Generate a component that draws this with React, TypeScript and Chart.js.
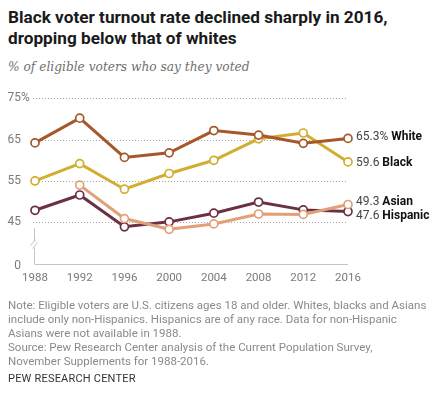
import React, { useEffect, useRef } from "react";
import { Chart, registerables } from "chart.js";

Chart.register(...registerables);

const years = ["1988", "1992", "1996", "2000", "2004", "2008", "2012", "2016"];
const white = [64.2, 70.2, 60.7, 61.8, 67.2, 66.1, 64.1, 65.3];
const black = [55.0, 59.2, 53.0, 56.8, 60.0, 65.2, 66.6, 59.6];
const asian = [null, 54.0, 45.9, 43.3, 44.6, 47.0, 46.9, 49.3];
const hispanic = [47.9, 51.6, 43.9, 45.1, 47.2, 49.9, 48.0, 47.6];
const yTickValues = [35, 45, 55, 65, 75];
const yTickLabels = ["0", "45", "55", "65", "75"];
const seriesNames = ["White", "Black", "Asian", "Hispanic"];
const endValueLabels = ["65.3%", "59.6", "49.3", "47.6"];

const colors = ["#A5582A", "#D2AE30", "#E1A078", "#6A3142"];
const labelDy = [-1, 1, -3, 4];

const FONT = "Roboto, 'Liberation Sans', sans-serif";

export default function App() {
  const ref = useRef<HTMLCanvasElement | null>(null);

  useEffect(() => {
    if (!ref.current) return;
    const series = [white, black, asian, hispanic];
    const decor = {
      id: "decor",
      beforeDatasetsDraw(chart: any) {
        const { ctx, chartArea, scales } = chart;
        const y = scales.y;
        const x = scales.x;
        ctx.save();
        // gridlines
        ctx.strokeStyle = "#a8a8a8";
        ctx.lineWidth = 1;
        ctx.setLineDash([1, 2]);
        yTickValues.forEach((v) => {
          if (v === 35) return;
          const py = Math.round(y.getPixelForValue(v)) + 0.5;
          ctx.beginPath();
          ctx.moveTo(chartArea.left - 2, py);
          ctx.lineTo(chartArea.right, py);
          ctx.stroke();
        });
        ctx.setLineDash([]);
        // baseline
        ctx.strokeStyle = "#c4c4c4";
        const by = Math.round(y.getPixelForValue(35)) + 0.5;
        ctx.beginPath();
        ctx.moveTo(chartArea.left, by);
        ctx.lineTo(chartArea.right, by);
        ctx.stroke();
        // y axis stub with break
        const ax = Math.round(chartArea.left) - 0.5;
        const topY = y.getPixelForValue(45) + 6;
        const breakY = y.getPixelForValue(39.6);
        ctx.beginPath();
        ctx.moveTo(ax, topY);
        ctx.lineTo(ax, breakY - 3);
        ctx.moveTo(ax, breakY + 3);
        ctx.lineTo(ax, by);
        ctx.stroke();
        ctx.beginPath();
        ctx.moveTo(ax - 4, breakY + 1);
        ctx.lineTo(ax + 1, breakY - 5);
        ctx.moveTo(ax - 2, breakY + 4);
        ctx.lineTo(ax + 3, breakY - 2);
        ctx.stroke();
        // y labels
        ctx.fillStyle = "#7a7a7a";
        ctx.font = `12px ${FONT}`;
        ctx.textBaseline = "middle";
        yTickValues.forEach((v, i) => {
          const py = y.getPixelForValue(v) + (v === 35 ? 2 : 0);
          ctx.textAlign = "right";
          ctx.fillText(yTickLabels[i], 21, py);
          if (v === 75) {
            ctx.textAlign = "left";
            ctx.fillText("%", 21, py);
          }
        });
        // x labels
        ctx.textAlign = "center";
        ctx.font = `11.5px ${FONT}`;
        years.forEach((yr, i) => {
          ctx.fillText(yr, x.getPixelForValue(i), by + 14);
        });
        ctx.restore();
      },
      afterDatasetsDraw(chart: any) {
        const { ctx, scales } = chart;
        const y = scales.y;
        const x = scales.x;
        ctx.save();
        ctx.textBaseline = "middle";
        ctx.textAlign = "left";
        const lx = x.getPixelForValue(years.length - 1) + 8;
        series.forEach((s, i) => {
          const v = s[s.length - 1] as number;
          const py = y.getPixelForValue(v) + labelDy[i];
          ctx.font = `12px ${FONT}`;
          ctx.fillStyle = "#444";
          const t = endValueLabels[i] + " ";
          ctx.fillText(t, lx, py);
          const w = ctx.measureText(t).width;
          ctx.font = `bold 12px ${FONT}`;
          ctx.fillStyle = "#111";
          ctx.fillText(seriesNames[i], lx + w, py);
        });
        ctx.restore();
      },
    };

    const chart = new Chart(ref.current, {
      type: "line",
      data: {
        labels: years,
        datasets: series.map((s, i) => ({
          label: seriesNames[i],
          data: s,
          borderColor: colors[i],
          backgroundColor: "#fff",
          borderWidth: 3,
          pointRadius: 4,
          pointBorderWidth: 1.7,
          pointBackgroundColor: "#fff",
          pointBorderColor: colors[i],
          tension: 0,
          spanGaps: false,
          clip: false as any,
        })),
      },
      options: {
        animation: false,
        responsive: false,
        maintainAspectRatio: false,
        layout: { padding: { left: 35, right: 90, top: 13.3, bottom: 36.4 } },
        plugins: { legend: { display: false }, tooltip: { enabled: false } },
        scales: {
          x: { type: "category", display: false, offset: false },
          y: { type: "linear", display: false, min: 35, max: 75 },
        },
      },
      plugins: [decor],
    });
    return () => chart.destroy();
  }, []);

  const noteStyle: React.CSSProperties = {
    position: "absolute",
    left: 8,
    top: 298,
    width: 430,
    font: `11.5px ${FONT}`,
    lineHeight: "14px",
    color: "#8a8a8a",
    whiteSpace: "nowrap",
  };

  return (
    <div
      style={{
        position: "fixed",
        left: 0,
        top: 0,
        width: 438,
        height: 399,
        background: "#fff",
        overflow: "hidden",
      }}
    >
      <div
        style={{
          position: "absolute",
          left: 8,
          top: 6.5,
          font: `700 17.2px ${FONT}`,
          lineHeight: "21px",
          color: "#1a1a1a",
          whiteSpace: "nowrap",
        }}
      >
        Black voter turnout rate declined sharply in 2016,
        <br />
        dropping below that of whites
      </div>
      <div
        style={{
          position: "absolute",
          left: 8,
          top: 58,
          font: `italic 12.2px 'DejaVu Serif', serif`,
          lineHeight: "18px",
          color: "#707070",
          whiteSpace: "nowrap",
        }}
      >
        % of eligible voters who say they voted
      </div>
      <canvas
        ref={ref}
        width={438}
        height={215}
        style={{ position: "absolute", left: 0, top: 85, width: 438, height: 215 }}
      />
      <div style={noteStyle}>
        Note: Eligible voters are U.S. citizens ages 18 and older. Whites, blacks and Asians
        <br />
        include only non-Hispanics. Hispanics are of any race. Data for non-Hispanic
        <br />
        Asians were not available in 1988.
        <br />
        Source: Pew Research Center analysis of the Current Population Survey,
        <br />
        November Supplements for 1988-2016.
      </div>
      <div
        style={{
          position: "absolute",
          left: 8,
          top: 372,
          font: `11px ${FONT}`,
          lineHeight: "14px",
          color: "#333",
          whiteSpace: "nowrap",
          letterSpacing: "0.2px",
        }}
      >
        PEW RESEARCH CENTER
      </div>
    </div>
  );
}
